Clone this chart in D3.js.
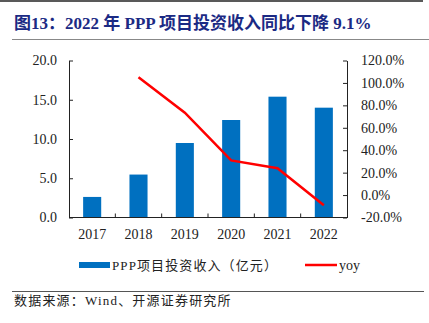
<!DOCTYPE html>
<html>
<head>
<meta charset="utf-8">
<script src="https://cdn.jsdelivr.net/npm/d3@7"></script>
<style>
  body { margin: 0; background: #fff; }
</style>
</head>
<body>
<div class="chart"></div>
<script>
var years = ["2017", "2018", "2019", "2020", "2021", "2022"];
var income = [2.62, 5.47, 9.49, 12.42, 15.39, 13.99];
var yoy = [null, 105.0, 73.5, 30.9, 23.9, -9.1];
var leftTicks = [0, 5, 10, 15, 20];
var rightTicks = [-20, 0, 20, 40, 60, 80, 100, 120];

var serif = "'Liberation Serif', 'Times New Roman', 'Noto Sans CJK SC', serif";

var svg = d3.select(".chart").append("svg")
			.attr("width", 429)
			.attr("height", 323);

// header and footer rules
svg.append("line")
	.attr("x1", 0).attr("x2", 423)
	.attr("y1", 1).attr("y2", 1)
	.style("stroke", "#222")
	.style("stroke-width", 1.5);

svg.append("text")
	.attr("x", 14)
	.attr("y", 29)
	.style("font-family", serif)
	.style("font-size", "17px")
	.style("font-weight", "bold")
	.style("fill", "#1b2a84")
	.text("图13：2022 年 PPP 项目投资收入同比下降 9.1%");

svg.append("line")
	.attr("x1", 12).attr("x2", 429)
	.attr("y1", 39.5).attr("y2", 39.5)
	.style("stroke", "#888")
	.style("stroke-width", 1.2);

svg.append("line")
	.attr("x1", 12).attr("x2", 424)
	.attr("y1", 291.5).attr("y2", 291.5)
	.style("stroke", "#555")
	.style("stroke-width", 1);

svg.append("text")
	.attr("x", 14)
	.attr("y", 305)
	.style("font-family", serif)
	.style("font-size", "13px")
	.style("letter-spacing", "1.2px")
	.style("fill", "#222")
	.text("数据来源：Wind、开源证券研究所");

// plot area
var plotLeft = 69, plotRight = 347, plotTop = 60.5, plotBottom = 217.5;

var x = d3.scaleBand()
			.domain(years)
			.range([plotLeft, plotRight]);

var yL = d3.scaleLinear()
			.domain([0, 20])
			.range([plotBottom, plotTop]);

var yR = d3.scaleLinear()
			.domain([-20, 120])
			.range([plotBottom, plotTop]);

// bars
svg.append("g")
	.selectAll("rect")
	.data(income)
	.enter()
	.append("rect")
	.attr("x", function(d, i){ return x(years[i]) + x.bandwidth() * 0.305; })
	.attr("width", x.bandwidth() * 0.39)
	.attr("y", function(d){ return yL(d); })
	.attr("height", function(d){ return yL(0) - yL(d); })
	.style("fill", "#0070c0");

// yoy line
var line = d3.line()
			.defined(function(d){ return d != null; })
			.x(function(d, i){ return x(years[i]) + x.bandwidth() / 2; })
			.y(function(d){ return yR(d); });

svg.append("path")
	.datum(yoy)
	.attr("d", line)
	.style("fill", "none")
	.style("stroke", "#ff0000")
	.style("stroke-width", 2.5);

// axes
var axisL = svg.append("g")
			.attr("transform", "translate(" + plotLeft + ",0)")
			.call(d3.axisLeft(yL).tickValues(leftTicks).tickSizeInner(-4).tickSizeOuter(0)
				.tickPadding(12).tickFormat(d3.format(".1f")));

var axisR = svg.append("g")
			.attr("transform", "translate(" + plotRight + ",0)")
			.call(d3.axisRight(yR).tickValues(rightTicks).tickSizeInner(-4).tickSizeOuter(0)
				.tickPadding(14).tickFormat(function(d){ return d.toFixed(1) + "%"; }));

var bandEdges = years.slice(1).map(function(d){ return x(d); });

var axisB = svg.append("g")
			.attr("transform", "translate(0," + plotBottom + ")");

axisB.append("line")
	.attr("x1", plotLeft).attr("x2", plotRight)
	.style("stroke", "#222");

axisB.selectAll(".edge")
	.data(bandEdges)
	.enter()
	.append("line")
	.attr("class", "edge")
	.attr("x1", function(d){ return d; })
	.attr("x2", function(d){ return d; })
	.attr("y1", 0).attr("y2", -4)
	.style("stroke", "#222");

axisB.selectAll(".year")
	.data(years)
	.enter()
	.append("text")
	.attr("class", "year")
	.attr("x", function(d){ return x(d) + x.bandwidth() / 2; })
	.attr("y", 21)
	.attr("text-anchor", "middle")
	.style("font-family", serif)
	.style("font-size", "14px")
	.style("fill", "#222")
	.text(function(d){ return d; });

[axisL, axisR].forEach(function(g){
	g.selectAll("path, line").style("stroke", "#222");
	g.selectAll("text")
		.style("font-family", serif)
		.style("font-size", "14px")
		.style("fill", "#222");
});

// legend
svg.append("rect")
	.attr("x", 79)
	.attr("y", 262)
	.attr("width", 31)
	.attr("height", 6)
	.style("fill", "#0070c0");

svg.append("text")
	.attr("x", 112)
	.attr("y", 270)
	.style("font-family", serif)
	.style("font-size", "13px")
	.style("letter-spacing", "1.1px")
	.style("fill", "#222")
	.text("PPP项目投资收入（亿元）");

svg.append("line")
	.attr("x1", 305).attr("x2", 337)
	.attr("y1", 265).attr("y2", 265)
	.style("stroke", "#ff0000")
	.style("stroke-width", 2.5);

svg.append("text")
	.attr("x", 339)
	.attr("y", 270)
	.style("font-family", serif)
	.style("font-size", "14px")
	.style("fill", "#222")
	.text("yoy");
</script>
</body>
</html>
